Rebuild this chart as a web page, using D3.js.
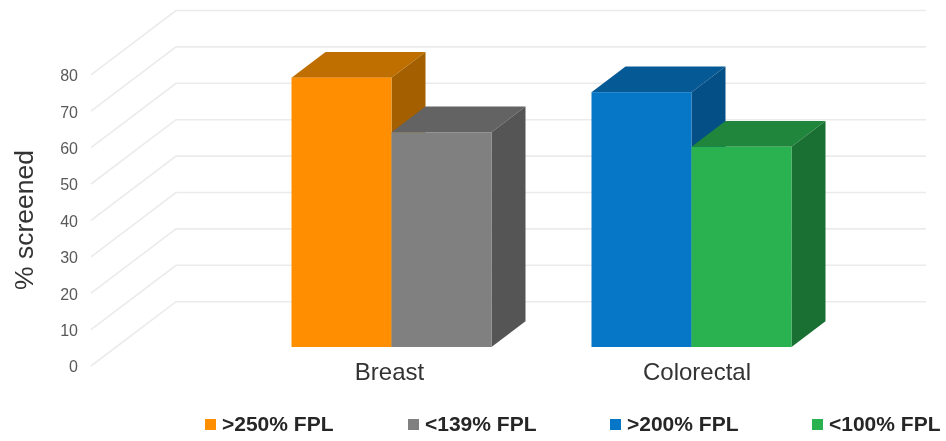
<!DOCTYPE html>
<html>
<head>
<meta charset="utf-8">
<script src="https://cdn.jsdelivr.net/npm/d3@7"></script>
<style>
  html, body { margin: 0; padding: 0; background: #fff; }
  svg { display: block; filter: blur(0.6px); font-family: "Liberation Sans", Arial, sans-serif; }
</style>
</head>
<body>
<div id="chart"></div>
<script>
var categories = ['Breast', 'Colorectal'];
var seriesNames = ['>250% FPL', '<139% FPL', '>200% FPL', '<100% FPL'];
var seriesCategory = ['Breast', 'Breast', 'Colorectal', 'Colorectal'];
var seriesSlot = [0, 1, 0, 1];
var seriesValues = [74, 59, 70, 55];
var frontColors = ['#ff8f00', '#808080', '#0676c6', '#2ab250'];
var topColors = ['#bf6e00', '#636363', '#055a96', '#1f863c'];
var sideColors = ['#a46000', '#555555', '#044f85', '#1a7033'];
var yTicks = [0, 10, 20, 30, 40, 50, 60, 70, 80];
var legendX = [205, 408, 610, 812];
var categoryLabelShift = [-2, 5.5];

var width = 946, height = 441;

var svg = d3.select('#chart').append('svg')
  .attr('width', width)
  .attr('height', height);

// one scale for heights, then the three planes are just shifted from it
var floorY = 366, wallY = 301.7, barY = 347;
var wallLeft = 176, sideLeft = 91, wallRight = 926;
var barDepthX = 34, barDepthY = 25.7;

var y = d3.scaleLinear().domain([0, 80]).range([0, -291.2]);

var x0 = d3.scaleBand().domain(categories).range([291.5, 791.5]).paddingInner(1 / 3).paddingOuter(0);
var x1 = d3.scaleBand().domain([0, 1]).range([0, x0.bandwidth()]);

// gridlines on side and back wall
svg.append('g').selectAll('polyline')
  .data(yTicks)
  .enter().append('polyline')
  .attr('points', function(d) {
    return [
      [sideLeft, floorY + y(d)],
      [wallLeft, wallY + y(d)],
      [wallRight, wallY + y(d)]
    ].join(' ');
  })
  .attr('fill', 'none')
  .attr('stroke', '#ebebeb')
  .attr('stroke-width', 1.6);

// value axis
var axis = svg.append('g')
  .attr('transform', 'translate(78,' + (floorY + 0.7) + ')')
  .call(d3.axisLeft(y).tickValues(yTicks).tickSize(0).tickPadding(0));
axis.select('.domain').remove();
axis.selectAll('text')
  .attr('font-size', 16)
  .attr('font-family', '"Liberation Sans", Arial, sans-serif')
  .attr('fill', '#595959');

svg.append('text')
  .attr('transform', 'translate(33,220) rotate(-90)')
  .attr('text-anchor', 'middle')
  .attr('font-size', 26.5)
  .attr('fill', '#333')
  .text('% screened');

// bars, left to right so each covers the side of the one before
var bars = svg.append('g').selectAll('g')
  .data(seriesValues)
  .enter().append('g');

function barLeft(i) { return x0(seriesCategory[i]) + x1(seriesSlot[i]); }

bars.append('polygon')
  .attr('fill', function(d, i) { return topColors[i]; })
  .attr('points', function(d, i) {
    var l = barLeft(i), r = l + x1.bandwidth(), t = barY + y(d);
    return [[l, t], [l + barDepthX, t - barDepthY], [r + barDepthX, t - barDepthY], [r, t]].join(' ');
  });

bars.append('polygon')
  .attr('fill', function(d, i) { return sideColors[i]; })
  .attr('points', function(d, i) {
    var r = barLeft(i) + x1.bandwidth(), t = barY + y(d);
    return [[r, t], [r + barDepthX, t - barDepthY], [r + barDepthX, barY - barDepthY], [r, barY]].join(' ');
  });

bars.append('rect')
  .attr('x', function(d, i) { return barLeft(i); })
  .attr('y', function(d) { return barY + y(d); })
  .attr('width', x1.bandwidth())
  .attr('height', function(d) { return -y(d); })
  .attr('fill', function(d, i) { return frontColors[i]; });

// category labels
svg.append('g').selectAll('text')
  .data(categories)
  .enter().append('text')
  .attr('x', function(d, i) { return x0(d) + x0.bandwidth() / 2 + categoryLabelShift[i]; })
  .attr('y', 380)
  .attr('text-anchor', 'middle')
  .attr('font-size', 24)
  .attr('fill', '#333')
  .text(function(d) { return d; });

// legend
var legend = svg.append('g').selectAll('g')
  .data(seriesNames)
  .enter().append('g')
  .attr('transform', function(d, i) { return 'translate(' + legendX[i] + ',419)'; });

legend.append('rect')
  .attr('width', 11)
  .attr('height', 11)
  .attr('fill', function(d, i) { return frontColors[i]; });

legend.append('text')
  .attr('x', 17)
  .attr('y', 12)
  .attr('font-size', 21)
  .attr('font-weight', 'bold')
  .attr('fill', '#262626')
  .text(function(d) { return d; });
</script>
</body>
</html>
